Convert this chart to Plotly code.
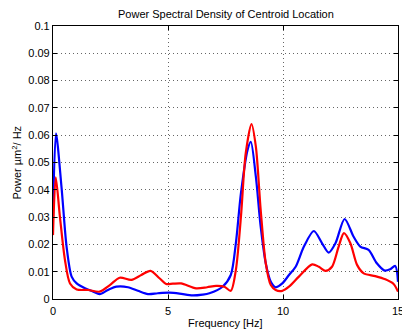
import plotly.graph_objects as go

blue_x = [0.0, 0.13, 0.37, 0.59, 0.81, 1.03, 1.39, 1.75, 2.03, 2.39, 2.76, 3.26, 3.69, 4.13, 4.56, 5.06, 5.5, 6.07, 6.5, 6.8, 7.37, 7.73, 7.95, 8.17, 8.46, 8.6, 8.82, 9.03, 9.25, 9.47, 9.68, 9.97, 10.26, 10.55, 10.91, 11.34, 11.70, 11.99, 12.28, 12.68, 13.07, 13.36, 13.72, 14.08, 14.42, 14.66, 14.88, 15.0]
blue_y = [0.030, 0.0607, 0.041, 0.0192, 0.0082, 0.0057, 0.0039, 0.0027, 0.0018, 0.0033, 0.0045, 0.0043, 0.0030, 0.0018, 0.0021, 0.0023, 0.0020, 0.0013, 0.0016, 0.0021, 0.0045, 0.0088, 0.0204, 0.0387, 0.0546, 0.0576, 0.0448, 0.0265, 0.0131, 0.0063, 0.0043, 0.0057, 0.0088, 0.0118, 0.0192, 0.0249, 0.0204, 0.0170, 0.0204, 0.0293, 0.0228, 0.0192, 0.0180, 0.0131, 0.0104, 0.0109, 0.0121, 0.0063]

red_x = [0.0, 0.12, 0.30, 0.52, 0.74, 1.03, 1.53, 2.03, 2.47, 2.90, 3.41, 3.84, 4.24, 4.63, 4.92, 5.21, 5.57, 6.22, 6.7, 7.09, 7.45, 7.73, 7.95, 8.17, 8.38, 8.63, 8.82, 9.03, 9.25, 9.47, 9.68, 9.97, 10.26, 10.69, 11.27, 11.56, 11.85, 12.13, 12.42, 12.65, 12.93, 13.22, 13.51, 14.01, 14.45, 14.81, 15.0]
red_y = [0.0234, 0.0446, 0.0302, 0.0143, 0.0057, 0.0035, 0.0033, 0.0027, 0.0051, 0.0078, 0.0070, 0.0088, 0.0103, 0.0076, 0.0055, 0.0056, 0.0057, 0.0039, 0.0043, 0.0048, 0.0045, 0.0030, 0.0106, 0.0300, 0.0534, 0.0641, 0.0558, 0.0326, 0.0131, 0.0051, 0.0033, 0.0030, 0.0045, 0.0082, 0.0127, 0.0118, 0.0103, 0.0118, 0.0192, 0.0241, 0.0204, 0.0125, 0.0094, 0.0084, 0.0072, 0.0055, 0.0027]

x_ticks = [0, 5, 10, 15]
x_ticktext = ["0", "5", "10", "15"]
y_ticks = [0, 0.01, 0.02, 0.03, 0.04, 0.05, 0.06, 0.07, 0.08, 0.09, 0.1]
y_ticktext = ["0", "0.01", "0.02", "0.03", "0.04", "0.05", "0.06", "0.07", "0.08", "0.09", "0.1"]

W, H = 402, 330
L, R, T, B = 53, 4, 26, 31

fig = go.Figure()
fig.add_trace(go.Scatter(x=blue_x, y=blue_y, mode="lines",
                         line=dict(color="#0000ff", width=2.2, shape="spline", smoothing=0.8),
                         showlegend=False, hoverinfo="skip"))
fig.add_trace(go.Scatter(x=red_x, y=red_y, mode="lines",
                         line=dict(color="#ff0000", width=2.2, shape="spline", smoothing=0.8),
                         showlegend=False, hoverinfo="skip"))

font = dict(family="Liberation Sans, Arial, sans-serif", size=11, color="#000000")
grid = dict(showgrid=True, gridcolor="#666666", griddash="1px,3px", gridwidth=1)

# last x tick label is drawn as an annotation so it can run past the right edge (as in the reference)
x_label_ann = [dict(text=t, xref="x", yref="paper", x=v, y=0, yshift=-12, xanchor="center",
                    yanchor="middle", showarrow=False, font=dict(size=11))
               for v, t in zip(x_ticks, x_ticktext)]

fig.update_layout(
    width=W, height=H,
    margin=dict(l=L, r=R, t=T, b=B),
    paper_bgcolor="white", plot_bgcolor="white",
    font=font,
    xaxis=dict(range=[0, 15], tickvals=x_ticks, showticklabels=False, ticks="inside", ticklen=4,
               tickcolor="black", showline=True, linecolor="black", linewidth=1.2, mirror="allticks",
               zeroline=False, automargin=False, **grid),
    yaxis=dict(range=[0, 0.1], tickvals=y_ticks, ticktext=y_ticktext, ticks="inside", ticklen=4,
               tickcolor="black", showline=True, linecolor="black", linewidth=1.2, mirror="allticks",
               zeroline=False, automargin=False, **grid),
    annotations=x_label_ann + [
        dict(text="Power Spectral Density of Centroid Location", xref="paper", yref="paper",
             x=0.5, y=1, yshift=12, xanchor="center", yanchor="middle", showarrow=False,
             font=dict(size=11)),
        dict(text="Frequency [Hz]", xref="paper", yref="paper", x=0.5, y=0, yshift=-24,
             xanchor="center", yanchor="middle", showarrow=False, font=dict(size=11)),
        dict(text="Power µm<sup>2</sup>/ Hz", xref="paper", yref="paper", x=0, y=0.5,
             xshift=-37, xanchor="center", yanchor="middle", textangle=-90, showarrow=False,
             font=dict(size=11)),
    ],
)
fig.write_html("out.html", config={"displayModeBar": False})

with open("out.html", "r", encoding="utf-8") as f:
    html = f.read()
html = html.replace("<head>", "<head><style>html,body{margin:0;padding:0;overflow:hidden;}</style>", 1)
with open("out.html", "w", encoding="utf-8") as f:
    f.write(html)
